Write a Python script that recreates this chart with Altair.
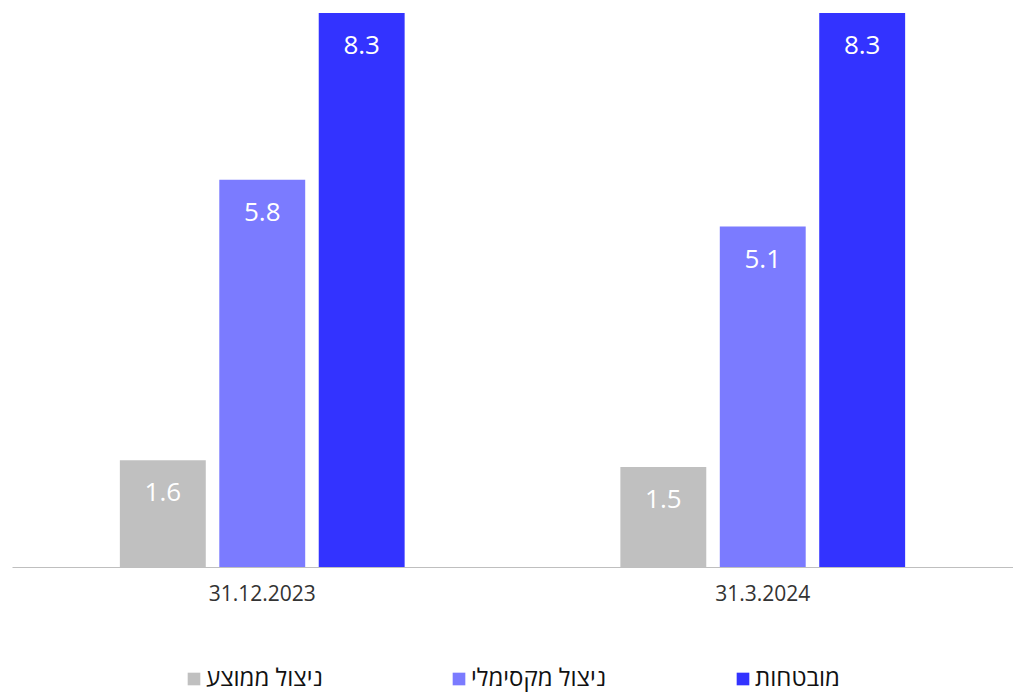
import altair as alt
import pandas as pd

dates = ["31.12.2023", "31.3.2024"]
series = ["ניצול ממוצע", "ניצול מקסימלי", "מובטחות"]
avg_used = [1.6, 1.5]
max_used = [5.8, 5.1]
committed = [8.3, 8.3]
colors = ["#C0C0C0", "#7B7BFF", "#3333FF"]

rows = []
for i, d in enumerate(dates):
    for s, vals in zip(series, [avg_used, max_used, committed]):
        rows.append({"date": d, "series": s, "value": vals[i]})
df = pd.DataFrame(rows)

FONT = "Open Sans"

x = alt.X("date:N", sort=dates, title=None,
          scale=alt.Scale(paddingInner=0.404, paddingOuter=0.202),
          axis=alt.Axis(labelAngle=0, ticks=False, domainColor="#BFBFBF", domainWidth=1,
                        labelFontSize=21, labelColor="#333333", labelFont=FONT,
                        labelPadding=16))
xo = alt.XOffset("series:N", sort=series,
                 scale=alt.Scale(paddingInner=0.136, paddingOuter=0.068))
y = alt.Y("value:Q", scale=alt.Scale(domain=[0, 8.375], nice=False), axis=None)

bars = alt.Chart(df).mark_bar().encode(
    x=x, xOffset=xo, y=y,
    color=alt.Color("series:N", sort=series,
                    scale=alt.Scale(domain=series, range=colors),
                    legend=alt.Legend(title=None, orient="none", direction="horizontal",
                                      legendX=170, legendY=659, padding=0,
                                      symbolType="square", symbolSize=160,
                                      symbolStrokeWidth=0,
                                      labelFont=FONT, labelFontSize=24, labelColor="#111111",
                                      labelOffset=0, columnPadding=124)),
)

labels = alt.Chart(df).mark_text(dy=33, baseline="middle", color="white",
                                 fontSize=26, font=FONT).encode(
    x=x, xOffset=xo, y=y,
    text=alt.Text("value:Q", format=".1f"),
)

chart = (bars + labels).properties(width=1001, height=559, padding={"left": 4, "top": 0, "right": 0, "bottom": 2}).configure_view(stroke=None)

chart.save("out.html", embed_options={"renderer": "svg", "actions": False})
